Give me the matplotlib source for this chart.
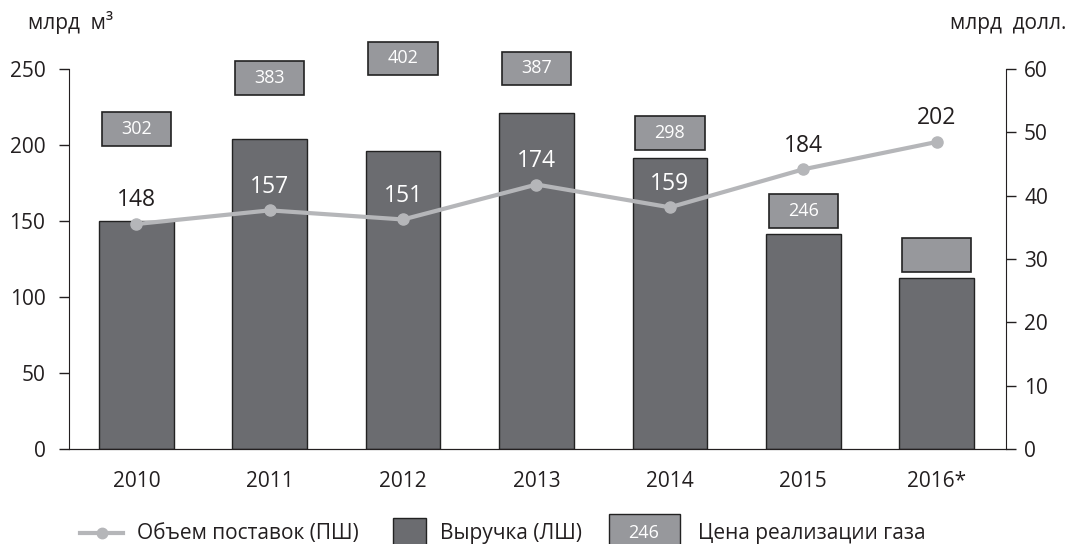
import numpy as np
import matplotlib.pyplot as plt
from matplotlib.patches import Rectangle
from matplotlib.lines import Line2D

plt.rcParams['font.family'] = ['Open Sans', 'DejaVu Sans']

# --- data ---
years = ['2010', '2011', '2012', '2013', '2014', '2015', '2016*']
volume = [148, 157, 151, 174, 159, 184, 202]          # млрд м3 (line, left scale)
revenue = [36, 49, 47, 53, 46, 34, 27]                # млрд долл. (bars, right scale)
price = ['302', '383', '402', '387', '298', '246', '']  # цена реализации газа
price_pos = [210.5, 244, 257, 250.5, 208, 156.5, 127.5]  # box centres, left-axis units

bar_col = '#6b6c70'
box_col = '#97989c'
line_col = '#b5b6b9'
txt_col = '#231f20'

W, H = 1069, 544
fig = plt.figure(figsize=(W / 100, H / 100), dpi=100)
ax = fig.add_axes([69 / W, 1 - 449 / H, (1006 - 69) / W, (449 - 69) / H])
ax2 = ax.twinx()

x = np.arange(len(years))
ax.set_xlim(-0.505, 6.52)
ax.set_ylim(0, 250)
ax2.set_ylim(0, 60)

# bars on right axis
ax2.bar(x, revenue, width=0.56, color=bar_col, edgecolor='#222222', linewidth=1.0, zorder=2)

# price boxes
bw, bh = 0.52, 22
for xi, p, yc in zip(x, price, price_pos):
    ax.add_patch(Rectangle((xi - bw / 2, yc - bh / 2), bw, bh, facecolor=box_col,
                           edgecolor='#222222', linewidth=1.2, clip_on=False, zorder=5))
    if p:
        ax.text(xi, yc, p, ha='center', va='center', color='white', fontsize=13, zorder=6)

# line on left axis (drawn above the bars)
ax.set_zorder(ax2.get_zorder() + 1)
ax.patch.set_visible(False)
ax.plot(x, volume, color=line_col, lw=3, marker='o', markersize=8, zorder=4)
for xi, v, r in zip(x, volume, revenue):
    bar_top = r * 250 / 60
    col = 'white' if v + 16 < bar_top else txt_col
    ax.annotate(str(v), (xi, v), xytext=(0, 17), textcoords='offset points',
                ha='center', va='center', fontsize=16.5, color=col, zorder=6)

# axes styling
for a in (ax, ax2):
    a.spines['top'].set_visible(False)
ax.spines['right'].set_visible(False)
ax2.spines['left'].set_visible(False)
ax2.spines['right'].set_color(txt_col)
ax.spines['left'].set_color(txt_col)
ax.spines['bottom'].set_color(txt_col)

ax.set_yticks(range(0, 251, 50))
ax2.set_yticks(range(0, 61, 10))
ax.tick_params(axis='y', length=7, width=1, pad=10, labelsize=15, colors=txt_col)
ax2.tick_params(axis='y', length=7, width=1, pad=6, labelsize=15, colors=txt_col)
ax.set_xticks(x)
ax.set_xticklabels(years)
ax.tick_params(axis='x', length=0, pad=16, labelsize=15, colors=txt_col)

fig.text(28 / W, 1 - 23 / H, 'млрд  м³', fontsize=15, color=txt_col, va='center', ha='left')
fig.text(1066 / W, 1 - 23 / H, 'млрд  долл.', fontsize=15, color=txt_col, va='center', ha='right')

# --- legend in pixel coordinates ---
lax = fig.add_axes([0, 0, 1, 1])
lax.set_xlim(0, W)
lax.set_ylim(H, 0)
lax.axis('off')
ly = 533
lax.add_line(Line2D([80, 123], [ly, ly], color=line_col, lw=3))
lax.plot([101.5], [ly], 'o', color=line_col, markersize=7.5)
lax.text(137, ly, 'Объем поставок (ПШ)', fontsize=15, color=txt_col, va='center')
lax.add_patch(Rectangle((393, 518), 33, 34, facecolor=bar_col, edgecolor='#222222', lw=1.0))
lax.text(440, ly, 'Выручка (ЛШ)', fontsize=15, color=txt_col, va='center')
lax.add_patch(Rectangle((609, 514), 71, 38, facecolor=box_col, edgecolor='#222222', lw=1.0))
lax.text(644, ly, '246', fontsize=13, color='white', va='center', ha='center')
lax.text(698, ly, 'Цена реализации газа', fontsize=15, color=txt_col, va='center')

fig.savefig('out.png', dpi=100)
